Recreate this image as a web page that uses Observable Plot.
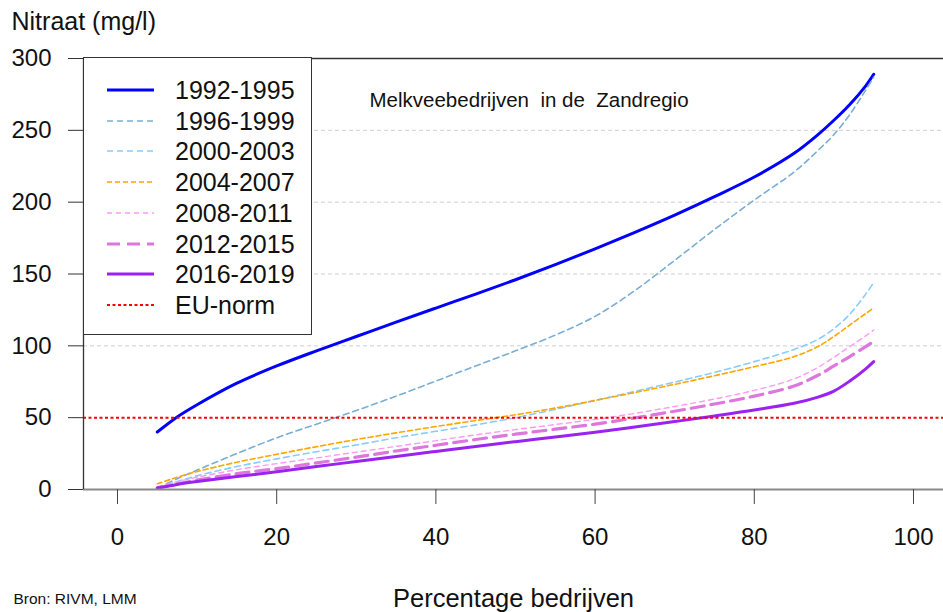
<!DOCTYPE html>
<html><head><meta charset="utf-8">
<script src="https://cdn.jsdelivr.net/npm/d3@7"></script>
<script src="https://cdn.jsdelivr.net/npm/@observablehq/plot@0.6"></script>
<style>
body{margin:0;background:#fff;font-family:"Liberation Sans",Arial,Helvetica,sans-serif;}
#wrap{position:relative;width:943px;height:612px;overflow:hidden;background:#fff}
#legend{position:absolute;left:83px;top:57px;width:229px;height:278px;border:1px solid #333;box-sizing:border-box;background:#fff}
.row{position:absolute;left:0;height:30px;width:228px}
.row svg{position:absolute;left:23px;top:10px}
.row span{position:absolute;left:91px;top:0;line-height:30px;font-size:25px;color:#111;white-space:nowrap}
</style></head><body><div id="wrap"></div>
<script>
// percentile of farms (x)
const percentiles = [5, 7.5, 10, 15, 20, 25, 30, 35, 40, 45, 50, 55, 60, 65, 70, 75, 80, 85, 88, 90, 92, 94, 95];
// nitrate (mg/l) per period
const v1992_1995 = [40, 50.5, 59, 74, 86, 96.5, 106.5, 116.5, 126.3, 136, 146, 156.5, 167.5, 179, 191, 203.8, 217.5, 234, 247, 257, 268, 281, 289];
const v1996_1999 = [1, 7.5, 13.5, 25, 36, 45.5, 55, 65, 75.5, 86, 96.5, 107.5, 120.5, 138.5, 159.5, 181, 201.5, 221, 236, 247, 261, 278, 287];
const v2000_2003 = [1, 5.5, 9.5, 16, 21.3, 26.3, 31, 36, 40.5, 45, 50, 55.8, 62, 68.3, 74.8, 81.5, 89, 97.5, 104.5, 112, 122, 136, 144];
const v2004_2007 = [4, 8.5, 12.5, 19, 24.5, 29.8, 34.8, 39.4, 43.8, 48, 52, 56.7, 62, 67.5, 73.2, 79.2, 85.5, 92.5, 99.5, 106.5, 114.5, 122.5, 126.5];
const v2008_2011 = [2, 5.5, 8.5, 13.8, 18, 22, 26, 30, 34, 38, 41.7, 45.2, 48.8, 53, 57.8, 63, 69, 77, 85, 92, 99.5, 107, 111];
const v2012_2015 = [1, 4, 6.5, 11, 14.5, 18.5, 22.5, 26.8, 30.8, 34.8, 38.5, 42, 45.5, 49.8, 54.5, 59.5, 65, 72, 79.5, 86, 92.5, 99.5, 103];
const v2016_2019 = [1, 3.5, 5.5, 9, 12.3, 16, 19.5, 23, 26.5, 30, 33.3, 36.5, 39.8, 43.5, 47.3, 51.2, 55.3, 60, 64.3, 68.5, 75.5, 84, 89];

const seriesNames = ["1992-1995", "1996-1999", "2000-2003", "2004-2007", "2008-2011", "2012-2015", "2016-2019"];
const seriesValues = [v1992_1995, v1996_1999, v2000_2003, v2004_2007, v2008_2011, v2012_2015, v2016_2019];
const seriesColors = ["#0000ff", "#7aaed4", "#88ccff", "#ffa500", "#ff99f5", "#dd77dd", "#9b22f0"];
const seriesDash = [null, "6,4", "6,4", "5,3", "5,4", "13,7", null];
const seriesWidth = [3, 1.6, 1.6, 1.6, 1.4, 3.2, 3];

const euNormLabel = "EU-norm";
const euNormValue = [50];
const gridValues = [100, 150, 200, 250];
const yTicks = [0, 50, 100, 150, 200, 250, 300];
const xTicks = [0, 20, 40, 60, 80, 100];
const yLabel = "Nitraat (mg/l)";
const xLabel = "Percentage bedrijven";
const sourceText = "Bron: RIVM, LMM";
const annotationText = "Melkveebedrijven  in de  Zandregio";

const xDomain = [-4.27, 103.77];
const font = "Liberation Sans, Arial, Helvetica, sans-serif";

const lineMarks = seriesNames.map((name, i) => {
  const rows = percentiles.map((p, j) => ({x: p, y: seriesValues[i][j], s: name}));
  const opts = {x: "x", y: "y", stroke: seriesColors[i], strokeWidth: seriesWidth[i], curve: "catmull-rom"};
  if (seriesDash[i]) opts.strokeDasharray = seriesDash[i];
  return Plot.line(rows, opts);
});

const chart = Plot.plot({
  width: 943, height: 612,
  marginTop: 58, marginBottom: 123, marginLeft: 83, marginRight: 0,
  style: {fontFamily: font, fontSize: "24px", color: "#111", background: "#fff", overflow: "visible"},
  x: {domain: xDomain},
  y: {domain: [0, 300]},
  marks: [
    Plot.ruleY(gridValues, {stroke: "#cfcfcf", strokeDasharray: "4,3", strokeWidth: 1}),
    ...lineMarks,
    Plot.ruleY(euNormValue, {stroke: "#ff0000", strokeDasharray: "3,2.5", strokeWidth: 2}),
    Plot.ruleY([0], {stroke: "#8a8a8a", strokeWidth: 2}),
    Plot.ruleY([300], {stroke: "#333", strokeWidth: 1.3}),
    Plot.ruleX([xDomain[0]], {stroke: "#333", strokeWidth: 1.3}),
    Plot.axisX(xTicks, {tickSize: 15, tickPadding: 23, label: null, fontSize: 24, stroke: "#444", fill: "#111"}),
    Plot.axisY(yTicks, {tickSize: 15, tickPadding: 17, label: null, fontSize: 24, stroke: "#333", fill: "#111"}),
    Plot.text([annotationText], {frameAnchor: "top-left", dx: 286, dy: 48, textAnchor: "start", lineAnchor: "bottom", fontSize: 20.5, fill: "#111"}),
    Plot.text([yLabel], {frameAnchor: "top-left", dx: -72, dy: -28.5, textAnchor: "start", lineAnchor: "bottom", fontSize: 25, fill: "#111"}),
    Plot.text([xLabel], {frameAnchor: "bottom", dy: 117, textAnchor: "middle", lineAnchor: "bottom", fontSize: 25.5, fill: "#111"}),
    Plot.text([sourceText], {frameAnchor: "bottom-left", dx: -70, dy: 114, textAnchor: "start", lineAnchor: "bottom", fontSize: 15.5, fill: "#111"})
  ]
});

const wrap = document.getElementById("wrap");
wrap.appendChild(chart);

// legend
const legend = document.createElement("div");
legend.id = "legend";
const legendNames = [...seriesNames, euNormLabel];
const legendColors = [...seriesColors, "#ff0000"];
const legendDash = [...seriesDash, "3,2.5"];
const legendWidth = [...seriesWidth, 2];
legendNames.forEach((name, i) => {
  const row = document.createElement("div");
  row.className = "row";
  row.style.top = (17 + i * 30.7) + "px";
  const dash = legendDash[i] ? ` stroke-dasharray="${legendDash[i]}"` : "";
  row.innerHTML = `<svg width="48" height="10"><line x1="0" x2="47" y1="5" y2="5" stroke="${legendColors[i]}" stroke-width="${legendWidth[i]}"${dash}/></svg><span>${name}</span>`;
  legend.appendChild(row);
});
wrap.appendChild(legend);
</script>
</body></html>
